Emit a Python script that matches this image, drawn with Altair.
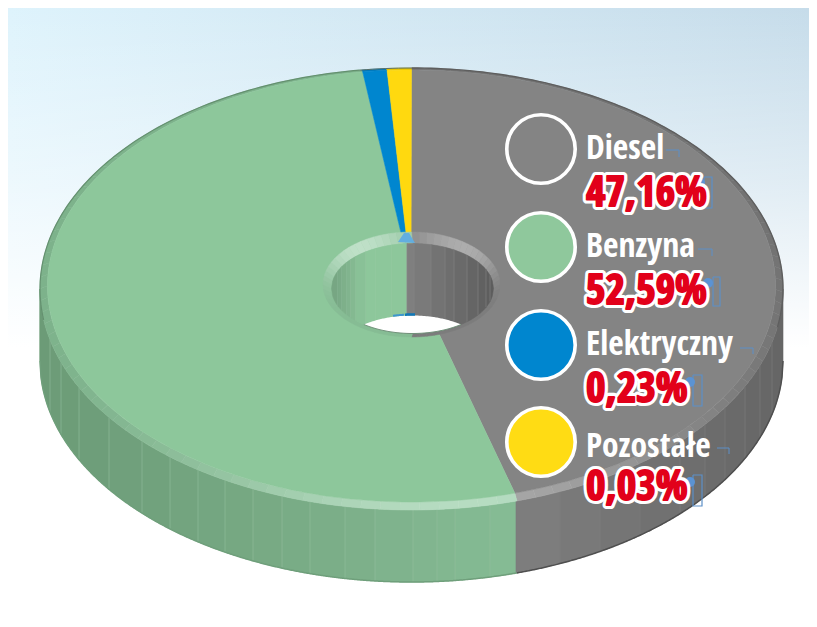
import math
import altair as alt
import pandas as pd

# ---- values
names = ["Diesel", "Benzyna", "Elektryczny", "Pozostałe"]
labels = ["47,16%", "52,59%", "0,23%", "0,03%"]
drawn_share = [45.42, 52.44, 1.07, 1.07]          # sweep of each slice as drawn
face_colors = ["#848484", "#8dc79b", "#0086cf", "#ffd90f"]
rim_colors = ["#737373", "#7db28b", "#0078ba", "#e6c400"]
rim_high = ["#a8a8a8", "#b6dcc1", "#0078ba", "#e6c400"]
legend_fill = ["#848484", "#8fc89c", "#0086cf", "#ffdc14"]

# ---- layout
W, H = 801, 611
OFF = 8
OUTER = (411.5, 289, 371.5, 221)
FACE = (411.5, 286, 364, 216)
APEX = (411, 275)
DEPTH = 72
HOLE_OUT = (411.5, 284.5, 88.5, 52.5)
HOLE_IN = (412.5, 288.5, 81, 45)
wall_x = [40, 50, 61, 79, 109, 142, 170, 198, 225, 253, 282, 310, 345, 375, 413, 437, 455, 490, 516,
          560, 600, 640, 680, 705, 725, 745, 760, 772, 783]
hole_x_left = [331.5, 338, 342, 347, 351, 356, 366, 376, 392, 407]
hole_x_right = [407, 414, 431, 445, 454, 467, 478, 486, 490, 493.5]
legend_cy = [149, 247, 345, 442]
name_base = [159, 257, 355, 457]
pct_base = [206, 304, 402, 500]
name_marks = [(666, 679, 150, 157), (698, 712, 249, 256), (740, 753, 348, 354), (717, 729, 448, 454)]
pct_marks = [(704, 712, 177, 208), (713, 720, 277, 306), (693, 702, 375, 406), (693, 702, 475, 506)]
dots = [(700, 183), (708, 283), (690, 382), (690, 482)]


def pt(e, th):
    cx, cy, rx, ry = e
    a = math.radians(th)
    return [cx + rx * math.sin(a) - OFF, cy - ry * math.cos(a) - OFF]


def arc(e, a, b, step=1.0):
    n = max(2, int(abs(b - a) / step) + 1)
    return [pt(e, a + (b - a) * i / (n - 1)) for i in range(n)]


def mix(c1, c2, t):
    a = [int(c1[i:i + 2], 16) for i in (1, 3, 5)]
    b = [int(c2[i:i + 2], 16) for i in (1, 3, 5)]
    return "#%02x%02x%02x" % tuple(round(p + (q - p) * t) for p, q in zip(a, b))


def poly(points, fill, stroke="transparent", sw=0):
    return {"type": "Feature", "geometry": {"type": "Polygon", "coordinates": [points + [points[0]]]},
            "properties": {"fill": fill, "stroke": stroke, "sw": sw}}


def line(points, stroke, sw=1):
    return {"type": "Feature", "geometry": {"type": "LineString", "coordinates": points},
            "properties": {"fill": "transparent", "stroke": stroke, "sw": sw}}


def ex(e, x, sign):
    cx, cy, rx, ry = e
    u = max(0, 1 - ((x - cx) / rx) ** 2)
    return cy + sign * ry * math.sqrt(u)


def x_span(e, x0, x1, sign, dy=0):
    n = max(2, int(abs(x1 - x0)) + 1)
    out = []
    for i in range(n):
        x = x0 + (x1 - x0) * i / (n - 1)
        out.append([x - OFF, ex(e, x, sign) + dy - OFF])
    return out


# slice boundaries, clockwise from 12 o'clock
edges = [0.0]
for s in drawn_share:
    edges.append(edges[-1] + s * 3.6)
split = edges[1]
split_x = OUTER[0] + OUTER[2] * math.sin(math.radians(split))

shapes = []

# outer wall: vertical strips
for x0, x1 in zip(wall_x[:-1], wall_x[1:]):
    xm = (x0 + x1) / 2
    if xm < split_x:
        c = mix("#6c9b77", "#86bc95", min(1, (xm - 40) / (split_x - 40)) ** 1.1)
    else:
        c = mix("#7f7f7f", "#656565", (xm - split_x) / (783 - split_x))
    top = x_span(OUTER, x0, x1, 1)
    bot = x_span(OUTER, x0, x1, 1, DEPTH)
    shapes.append(poly(top + bot[::-1], c, c, 0.6))
for x in wall_x[1:-1]:
    if abs(x - 516) < 1:
        continue
    y0 = ex(OUTER, x, 1)
    col = "#94c0a0" if x < split_x else "#808080"
    shapes.append(line([[x - OFF, y0 - OFF], [x - OFF, y0 + DEPTH - OFF]], col, 0.6))
shapes.append(line(x_span(OUTER, 40, split_x, 1, DEPTH), "#6f9f7b", 1.5))
shapes.append(line(x_span(OUTER, split_x, 783, 1, DEPTH), "#4f4f4f", 1.5))
shapes.append(line([[40 - OFF, OUTER[1] - OFF], [40 - OFF, OUTER[1] + DEPTH - OFF]], "#6c9b77", 1))

# bevel around the top
for k in range(4):
    a, b = edges[k], edges[k + 1]
    n = max(1, int((b - a) / 3))
    for i in range(n):
        t0 = a + (b - a) * i / n
        t1 = a + (b - a) * (i + 1) / n
        tm = (t0 + t1) / 2
        h = math.exp(-((tm - 172) / 42) ** 2)
        c = mix(rim_colors[k], rim_high[k], h)
        shapes.append(poly(arc(OUTER, t0, t1) + arc(FACE, t1, t0), c, c, 0.5))

# top face slices
for k in range(4):
    a, b = edges[k], edges[k + 1]
    shapes.append(poly([[APEX[0] - OFF, APEX[1] - OFF]] + arc(FACE, a, b), face_colors[k], face_colors[k], 0.5))

# dark outline of the far rim
shapes.append(line(arc(OUTER, 0, 100), "#5e5e5e", 1.4))
shapes.append(line(arc(OUTER, 262, 352), "#64906f", 1.2))
shapes.append(line(arc(OUTER, 352, 360), "#5b6f66", 1.0))

# hole bevel
for i in range(72):
    t0, t1 = i * 5.0, (i + 1) * 5.0
    tm = (t0 + t1) / 2
    green = tm > 180
    base, high = ("#86bc94", "#bfe0c8") if green else ("#7c7c7c", "#adadad")
    h = math.exp(-((((tm + 180) % 360 - 180) - (-38 if green else 38)) / 40) ** 2)
    if not green and tm > 165:
        h = 0
    c = mix(base, high, h)
    shapes.append(poly(arc(HOLE_OUT, t0, t1) + arc(HOLE_IN, t1, t0), c, c, 0.5))

# hole wall strips
for x0, x1 in zip(hole_x_left[:-1], hole_x_left[1:]):
    c = mix("#75a381", "#8dc79b", min(1, ((x0 + x1) / 2 - 332) / 35))
    shapes.append(poly(x_span(HOLE_IN, x0, x1, -1) + x_span(HOLE_IN, x1, x0, 1), c, c, 0.5))
    shapes.append(line([[x1 - OFF, ex(HOLE_IN, x1, -1) - OFF], [x1 - OFF, ex(HOLE_IN, x1, 1) - OFF]], "#a5cfb1", 0.5))
for x0, x1 in zip(hole_x_right[:-1], hole_x_right[1:]):
    c = mix("#808080", "#5c5c5c", ((x0 + x1) / 2 - 407) / 86)
    shapes.append(poly(x_span(HOLE_IN, x0, x1, -1) + x_span(HOLE_IN, x1, x0, 1), c, c, 0.5))
    shapes.append(line([[x0 - OFF, ex(HOLE_IN, x0, -1) - OFF], [x0 - OFF, ex(HOLE_IN, x0, 1) - OFF]], "#8e8e8e", 0.5))

# white see-through lens at the bottom of the hole
cx, cy, rx, ry = HOLE_IN
xh = rx * math.sqrt(1 - (DEPTH / 2 / ry) ** 2)
lens_top = x_span(HOLE_IN, cx - xh, cx + xh, -1, DEPTH)
lens_bot = x_span(HOLE_IN, cx + xh, cx - xh, 1)
shapes.append(poly(lens_top + lens_bot, "#ffffff"))
shapes.append(line(x_span(HOLE_IN, 393, 404, -1, DEPTH - 1), "#3f97cf", 2))
shapes.append(line(x_span(HOLE_IN, 405, 415, -1, DEPTH - 1), "#0f78b8", 2.5))
shapes.append(line(x_span(HOLE_IN, cx - xh, cx + xh, 1), "#6f8f78", 1))

# small blue wedge on the far bevel of the hole
shapes.append(poly([[404 - OFF, 233 - OFF], [409 - OFF, 233 - OFF], [415 - OFF, 243 - OFF], [398 - OFF, 242 - OFF]], "#62aee0"))

# editor's frame marks next to the labels
for (x0, x1, y0, y1) in name_marks:
    shapes.append(line([[x0 - OFF, y0 - OFF], [x1 - OFF, y0 - OFF], [x1 - OFF, y1 - OFF]], "#5c8fc7", 1))
for (x0, x1, y0, y1) in pct_marks:
    shapes.append(line([[x0 - OFF, y0 - OFF], [x1 - OFF, y0 - OFF], [x1 - OFF, y1 - OFF], [x0 - OFF, y1 - OFF], [x0 - OFF, y0 - OFF]], "#5c8fc7", 1.2))

PROJ = dict(type="identity", scale=1, translate=[0, 0])
BG_POLY = [[0, 0], [W, 0], [W, 340], [0, 340]]

bg1 = alt.Chart(alt.Data(values=[poly(BG_POLY, "#ffffff")])).mark_geoshape(
    fill=alt.Gradient(gradient="linear", x1=0, y1=0, x2=1, y2=0,
                      stops=[alt.GradientStop(color="#def3fc", offset=0),
                             alt.GradientStop(color="#c6dcea", offset=1)]),
    strokeWidth=0).project(**PROJ)
bg2 = alt.Chart(alt.Data(values=[poly(BG_POLY, "#ffffff")])).mark_geoshape(
    fill=alt.Gradient(gradient="linear", x1=0, y1=0, x2=0, y2=1,
                      stops=[alt.GradientStop(color="rgba(255,255,255,0)", offset=0),
                             alt.GradientStop(color="rgba(255,255,255,0.45)", offset=0.5),
                             alt.GradientStop(color="rgba(255,255,255,1)", offset=1)]),
    strokeWidth=0).project(**PROJ)

geo = alt.Chart(alt.Data(values=shapes)).mark_geoshape().encode(
    fill=alt.Fill("properties.fill:N", scale=None),
    stroke=alt.Stroke("properties.stroke:N", scale=None),
    strokeWidth=alt.StrokeWidth("properties.sw:Q", scale=None),
).project(**PROJ)

rows = pd.DataFrame({
    "name": names, "label": labels, "fill": legend_fill,
    "cx": [541 - OFF] * 4, "cy": [v - OFF for v in legend_cy],
    "tx": [586 - OFF] * 4, "ny": [v - OFF for v in name_base], "py": [v - OFF for v in pct_base],
})
dot_df = pd.DataFrame({"x": [d[0] - OFF for d in dots], "y": [d[1] - OFF for d in dots]})

X = lambda f: alt.X(f, type="quantitative", scale=None, axis=None)
Y = lambda f: alt.Y(f, type="quantitative", scale=None, axis=None)

circles = alt.Chart(rows).mark_point(filled=True, size=4680, shape="circle", opacity=1,
                                     stroke="white", strokeWidth=3.6, strokeOpacity=1).encode(
    x=X("cx"), y=Y("cy"), fill=alt.Fill("fill:N", scale=None))
dot_marks = alt.Chart(dot_df).mark_point(filled=True, size=100, shape="circle", color="#5b93d3", opacity=1).encode(
    x=X("x"), y=Y("y"))

FONT = "Open Sans Condensed"
PCT = 42
name_txt = alt.Chart(rows).mark_text(font=FONT, fontWeight="bold", fontSize=33.5, align="left", baseline="alphabetic",
                                     color="white").encode(x=X("tx"), y=Y("ny"), text="name:N")
pct_white = alt.Chart(rows).mark_text(font=FONT, fontWeight="bold", fontSize=PCT, align="left", baseline="alphabetic",
                                      fill="white", stroke="white", strokeWidth=8, strokeJoin="round").encode(
    x=X("tx"), y=Y("py"), text="label:N")
pct_red = alt.Chart(rows).mark_text(font=FONT, fontWeight="bold", fontSize=PCT, align="left", baseline="alphabetic",
                                    fill="#e2001a", stroke="#e2001a", strokeWidth=1.8, strokeJoin="round").encode(
    x=X("tx"), y=Y("py"), text="label:N")

chart = alt.layer(bg1, bg2, geo, circles, dot_marks, name_txt, pct_white, pct_red).properties(
    width=W, height=H, padding=0, autosize=alt.AutoSizeParams(type="none"),
).configure_view(stroke=None)

chart.save("out.html", embed_options={"renderer": "svg", "actions": False})
